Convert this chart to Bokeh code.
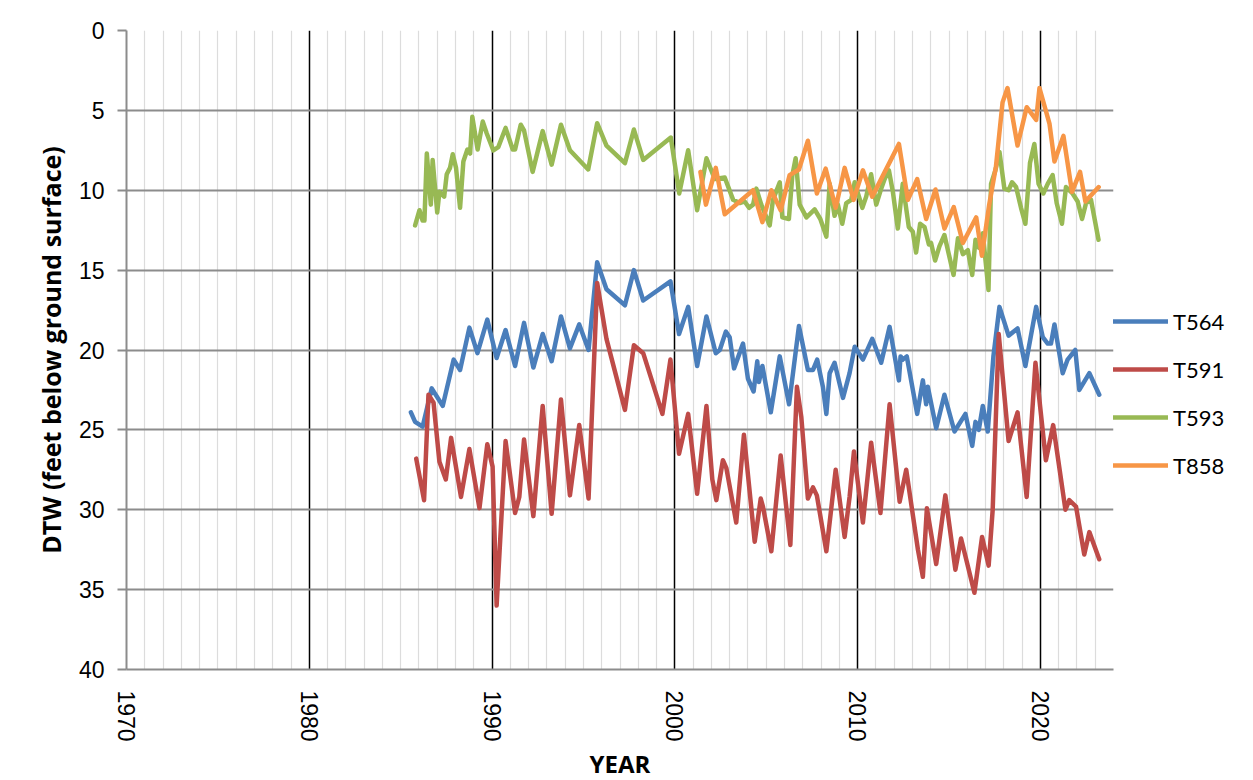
import math
from bokeh.plotting import figure
from bokeh.models import Range1d, FixedTicker, Legend, LegendItem, Title
from bokeh.embed import file_html
from bokeh.resources import INLINE

# ---------------- data ----------------
T564_year = [
    1985.56, 1985.79, 1986.2, 1986.7, 1987.3, 1987.9, 1988.25, 1988.76, 1989.2, 1989.74,
    1990.25, 1990.74, 1991.26, 1991.75, 1992.26, 1992.77, 1993.26, 1993.77, 1994.26, 1994.77,
    1995.28, 1995.75, 1996.26, 1997.27, 1997.76, 1998.27, 1999.76, 2000.23, 2000.73, 2001.22,
    2001.73, 2002.24, 2002.46, 2002.79, 2003.0, 2003.24, 2003.73, 2004.0, 2004.31, 2004.51,
    2004.6, 2004.79, 2005.25, 2005.74, 2006.25, 2006.79, 2007.28, 2007.56, 2007.79, 2008.1,
    2008.29, 2008.47, 2008.74, 2009.2, 2009.56, 2009.84, 2010.29, 2010.8, 2011.29, 2011.75,
    2012.26, 2012.35, 2012.47, 2012.69, 2013.26, 2013.57, 2013.75, 2013.84, 2014.3, 2014.75,
    2015.3, 2015.9, 2016.27, 2016.45, 2016.63, 2016.85, 2017.12, 2017.43, 2017.76, 2018.26,
    2018.75, 2019.18, 2019.77, 2020.13, 2020.4, 2020.58, 2020.77, 2021.22, 2021.49, 2021.91,
    2022.13, 2022.68, 2023.22]
T564_dtw = [
    23.9, 24.5, 24.8, 22.4, 23.5, 20.6, 21.25, 18.6, 20.2, 18.1,
    20.5, 18.75, 21.0, 18.3, 21.1, 19.0, 20.7, 17.9, 19.9, 18.4,
    20.0, 14.5, 16.2, 17.2, 15.0, 16.9, 15.7, 19.0, 17.3, 21.0,
    17.9, 20.2, 20.0, 18.85, 19.2, 21.15, 19.6, 21.8, 22.6, 20.7,
    22.0, 21.0, 23.9, 20.4, 23.4, 18.5, 21.25, 21.25, 20.6, 22.3,
    24.0, 21.45, 20.8, 23.0, 21.45, 19.8, 20.6, 19.3, 20.8, 18.55,
    21.9, 20.4, 20.6, 20.4, 24.0, 21.9, 23.4, 22.3, 24.9, 22.8,
    25.1, 24.0, 26.0, 24.5, 25.0, 23.5, 25.1, 20.4, 17.3, 19.1,
    18.65, 21.0, 17.3, 19.2, 19.6, 19.6, 18.4, 21.45, 20.6, 20.0,
    22.5, 21.45, 22.8]

T591_year = [
    1985.85, 1986.28, 1986.52, 1986.8, 1987.12, 1987.47, 1987.76, 1988.3, 1988.76, 1989.31,
    1989.74, 1990.03, 1990.25, 1990.74, 1991.26, 1991.49, 1991.75, 1992.26, 1992.77, 1993.26,
    1993.77, 1994.26, 1994.77, 1995.28, 1995.75, 1996.26, 1997.27, 1997.76, 1998.27, 1999.32,
    1999.76, 2000.23, 2000.73, 2001.22, 2001.73, 2002.05, 2002.27, 2002.63, 2002.82, 2003.36,
    2003.78, 2004.37, 2004.7, 2004.82, 2005.28, 2005.79, 2006.32, 2006.68, 2006.92, 2007.28,
    2007.56, 2007.77, 2008.29, 2008.8, 2009.29, 2009.56, 2009.8, 2010.29, 2010.74, 2011.25,
    2011.75, 2012.3, 2012.66, 2013.3, 2013.57, 2013.79, 2014.3, 2014.8, 2015.35, 2015.66,
    2016.39, 2016.81, 2017.17, 2017.39, 2017.72, 2018.26, 2018.75, 2019.25, 2019.73, 2020.3,
    2020.7, 2021.37, 2021.58, 2021.95, 2022.4, 2022.68, 2023.22]
T591_dtw = [
    26.8, 29.4, 22.8, 23.3, 27.0, 28.1, 25.5, 29.2, 26.2, 29.9,
    25.9, 27.3, 36.0, 25.7, 30.2, 29.2, 25.6, 30.4, 23.5, 30.25,
    23.1, 29.1, 24.7, 29.3, 15.8, 19.3, 23.75, 19.7, 20.2, 24.0,
    20.6, 26.5, 24.0, 29.0, 23.5, 28.1, 29.4, 26.9, 27.4, 30.8,
    25.3, 32.0, 29.3, 29.8, 32.6, 26.6, 32.2, 22.3, 24.2, 29.3,
    28.6, 29.1, 32.6, 27.5, 31.7, 29.2, 26.35, 30.8, 25.8, 30.2,
    23.4, 29.5, 27.5, 32.5, 34.2, 29.9, 33.4, 29.1, 33.75, 31.8,
    35.2, 31.7, 33.5, 30.0, 19.0, 25.7, 23.9, 29.2, 20.8, 26.9,
    24.7, 30.0, 29.4, 29.8, 32.8, 31.4, 33.1]

T593_year = [
    1985.79, 1986.03, 1986.2, 1986.3, 1986.43, 1986.65, 1986.75, 1987.0, 1987.12, 1987.38,
    1987.52, 1987.7, 1987.85, 1988.03, 1988.25, 1988.43, 1988.65, 1988.8, 1988.92, 1989.21,
    1989.49, 1989.71, 1990.07, 1990.34, 1990.74, 1991.13, 1991.26, 1991.57, 1991.75, 1992.22,
    1992.77, 1993.26, 1993.77, 1994.26, 1995.26, 1995.75, 1996.26, 1997.27, 1997.76, 1998.27,
    1999.78, 2000.24, 2000.73, 2001.22, 2001.73, 2002.19, 2002.73, 2003.19, 2003.55, 2003.82,
    2004.06, 2004.28, 2004.46, 2004.73, 2005.19, 2005.37, 2005.74, 2005.88, 2006.24, 2006.43,
    2006.61, 2006.83, 2007.2, 2007.65, 2007.96, 2008.29, 2008.47, 2008.74, 2008.92, 2009.16,
    2009.38, 2009.65, 2009.84, 2010.02, 2010.26, 2010.47, 2010.74, 2011.02, 2011.29, 2011.48,
    2011.71, 2011.93, 2012.2, 2012.47, 2012.8, 2013.02, 2013.2, 2013.42, 2013.66, 2013.9,
    2014.02, 2014.24, 2014.48, 2014.75, 2014.99, 2015.25, 2015.49, 2015.76, 2016.03, 2016.27,
    2016.45, 2016.63, 2016.85, 2017.16, 2017.3, 2017.54, 2017.76, 2018.03, 2018.26, 2018.45,
    2018.67, 2018.94, 2019.18, 2019.43, 2019.67, 2019.9, 2020.16, 2020.4, 2020.67, 2020.89,
    2021.18, 2021.4, 2021.76, 2022.04, 2022.28, 2022.5, 2022.77, 2023.18]
T593_dtw = [
    12.2, 11.25, 11.9, 11.9, 7.7, 10.9, 8.1, 11.4, 10.1, 10.4,
    9.0, 8.6, 7.75, 8.6, 11.1, 8.2, 7.45, 7.7, 5.4, 7.45,
    5.7, 6.45, 7.5, 7.3, 6.1, 7.45, 7.45, 5.9, 6.25, 8.85,
    6.3, 8.4, 5.9, 7.5, 8.7, 5.8, 7.2, 8.3, 6.2, 8.1,
    6.7, 10.2, 7.5, 11.25, 8.0, 9.3, 9.2, 10.6, 10.8, 10.7,
    11.1, 10.9, 9.9, 10.9, 12.2, 10.6, 9.5, 11.7, 11.8, 9.05,
    8.0, 10.9, 11.7, 11.2, 11.8, 12.9, 9.6, 11.6, 10.9, 12.1,
    10.8, 10.6, 9.5, 10.2, 11.1, 10.4, 9.0, 10.9, 9.9, 9.3,
    8.75, 10.1, 12.4, 9.6, 12.3, 12.6, 13.9, 12.1, 12.3, 13.4,
    13.3, 14.4, 13.5, 12.8, 14.0, 15.3, 13.0, 14.0, 13.75, 15.3,
    13.1, 13.6, 12.7, 16.25, 9.6, 8.75, 7.6, 9.9, 10.0, 9.5,
    9.8, 11.1, 12.1, 8.3, 7.1, 9.6, 10.2, 9.6, 9.05, 10.8,
    12.1, 9.8, 10.2, 10.7, 11.8, 10.8, 10.6, 13.1]

T858_year = [
    2001.4, 2001.7, 2002.24, 2002.73, 2004.28, 2004.79, 2005.28, 2005.79, 2006.28, 2006.79,
    2007.28, 2007.77, 2008.25, 2008.8, 2009.29, 2009.78, 2010.29, 2010.8, 2012.26, 2012.75,
    2013.26, 2013.75, 2014.26, 2014.75, 2015.26, 2015.76, 2016.49, 2016.8, 2017.2, 2017.57,
    2017.93, 2018.2, 2018.75, 2019.25, 2019.77, 2019.95, 2020.5, 2020.77, 2021.26, 2021.73,
    2022.17, 2022.46, 2023.19]
T858_dtw = [
    8.85, 10.9, 8.6, 11.5, 10.0, 12.0, 10.0, 11.25, 9.05, 8.7,
    6.9, 10.2, 8.65, 11.1, 8.6, 10.6, 8.75, 10.4, 7.1, 10.6,
    9.3, 11.8, 9.95, 12.4, 11.05, 13.3, 11.7, 14.1, 10.9, 8.5,
    4.5, 3.6, 7.2, 4.8, 5.6, 3.6, 5.85, 8.2, 6.6, 10.1,
    8.85, 10.7, 9.8]

series_names = ["T564", "T591", "T593", "T858"]
series_colors = ["#4A7EBB", "#BE4B48", "#98B954", "#F79646"]
x_labels_years = [1970, 1980, 1990, 2000, 2010, 2020]
y_ticks = [0, 5, 10, 15, 20, 25, 30, 35, 40]

# ---------------- figure ----------------
p = figure(frame_width=987, frame_height=639, output_backend="svg", toolbar_location=None,
           x_range=Range1d(1970, 2024), y_range=Range1d(40, 0),
           min_border_left=126, min_border_top=30, min_border_bottom=105,
           min_border_right=130)
p.outline_line_color = None
p.background_fill_color = "white"
p.border_fill_color = "white"

# grid
p.xgrid.ticker = FixedTicker(ticks=[1980, 1990, 2000, 2010, 2020],
                             minor_ticks=[y for y in range(1971, 2025) if y % 10])
p.xgrid.grid_line_color = "black"
p.xgrid.grid_line_width = 1.5
p.xgrid.minor_grid_line_color = "#dcdcdc"
p.xgrid.minor_grid_line_width = 1.2
p.ygrid.ticker = FixedTicker(ticks=y_ticks[:-1])
p.ygrid.grid_line_color = "#8c8c8c"
p.ygrid.grid_line_width = 2

# axes
tick_font = "Liberation Sans"
title_font = "Open Sans"
xa = p.xaxis[0]
xa.ticker = FixedTicker(ticks=x_labels_years)
xa.major_label_orientation = -math.pi / 2
xa.major_label_text_font = tick_font
xa.major_label_text_font_size = "23px"
xa.major_label_text_color = "black"
xa.major_label_standoff = 15
xa.major_tick_line_color = None
xa.minor_tick_line_color = None
xa.axis_line_color = "#8c8c8c"
xa.axis_line_width = 2
xa.axis_label = "YEAR"
xa.axis_label_text_font = title_font
xa.axis_label_text_font_style = "bold"
xa.axis_label_text_font_size = "24px"
xa.axis_label_text_color = "black"
xa.axis_label_standoff = 2

ya = p.yaxis[0]
ya.ticker = FixedTicker(ticks=y_ticks)
ya.major_label_text_font = tick_font
ya.major_label_text_font_size = "23px"
ya.major_label_text_color = "black"
ya.major_label_standoff = 13
ya.major_tick_out = 9
ya.major_tick_in = 0
ya.major_tick_line_color = "#8c8c8c"
ya.major_tick_line_width = 2
ya.minor_tick_line_color = None
ya.axis_line_color = "#8c8c8c"
ya.axis_line_width = 2

# y axis title as a side title so it can sit a little above the frame centre
y_title = Title(text="DTW (feet below ground surface)", align="center", offset=46,
                text_font=title_font, text_font_style="bold", text_font_size="25px",
                text_color="black", standoff=16)
p.add_layout(y_title, "left")

# lines
xs = [T564_year, T591_year, T593_year, T858_year]
ys = [T564_dtw, T591_dtw, T593_dtw, T858_dtw]
items = []
for name, col, x, y in zip(series_names, series_colors, xs, ys):
    r = p.line(x, y, line_color=col, line_width=4.5, line_join="round", line_cap="round")
    items.append(LegendItem(label=name, renderers=[r]))

legend = Legend(items=items, location="top_left", orientation="vertical",
                title=" ", title_text_font_size="12px", title_standoff=253,
                glyph_width=55, glyph_height=48, label_height=48,
                label_standoff=5, spacing=0, padding=3, margin=0,
                label_text_font="Lato", label_text_font_size="22px",
                label_text_color="black", border_line_color=None,
                background_fill_alpha=0)
p.add_layout(legend, "right")

open("out.html", "w").write(file_html(p, INLINE))
